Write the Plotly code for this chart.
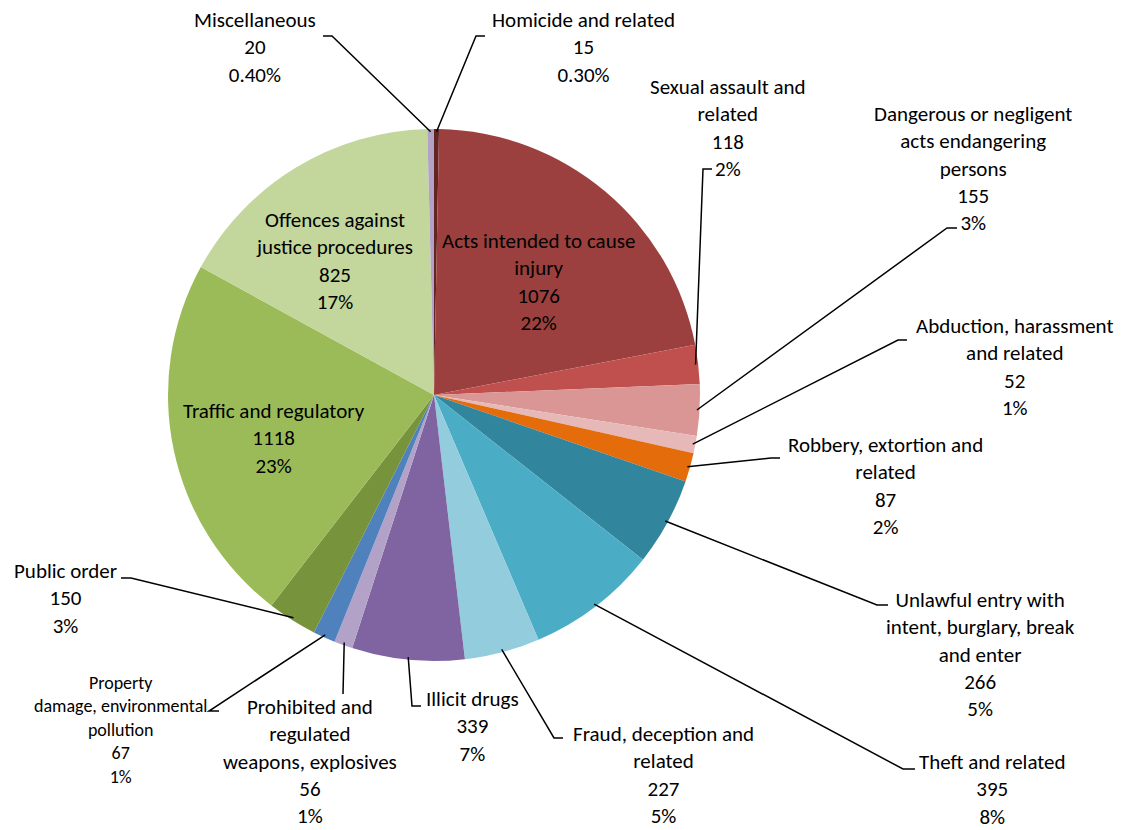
import math
import plotly.graph_objects as go

# slices clockwise from 12 o'clock
names = [
    "Homicide and related",
    "Acts intended to cause<br>injury",
    "Sexual assault and<br>related",
    "Dangerous or negligent<br>acts endangering<br>persons",
    "Abduction, harassment<br>and related",
    "Robbery, extortion and<br>related",
    "Unlawful entry with<br>intent, burglary, break<br>and enter",
    "Theft and related",
    "Fraud, deception and<br>related",
    "Illicit drugs",
    "Prohibited and<br>regulated<br>weapons, explosives",
    "Property<br>damage, environmental<br>pollution",
    "Public order",
    "Traffic and regulatory",
    "Offences against<br>justice procedures",
    "Miscellaneous",
]
values = [15, 1076, 118, 155, 52, 87, 266, 395, 227, 339, 56, 67, 150, 1118, 825, 20]
colors = [
    "#632523", "#9B403E", "#C0504D", "#D99694", "#E6B9B8", "#E46C0A",
    "#31859C", "#4BACC6", "#93CDDD", "#8064A2", "#B3A2C7", "#4F81BD",
    "#77933C", "#9BBB59", "#C3D69B", "#B3A2C7",
]

# page body has an 8px margin, so the figure is drawn 8px in from the corner
OFF = 8
W, H = 1134 - OFF, 830 - OFF
CX, CY, R = 434, 395, 266
FONT = "Carlito, Lato, sans-serif"

# label placement (screen pixels): text centre x, centre y, font size, leader elbow points
# None for the labels that sit inside their slice
label_pos = [
    (583, 47, 21, [(485, 36), (476, 36)]),
    (538, 282, 21, None),
    (728, 128, 21, [(712, 169), (703, 169)]),
    (973, 168, 21, [(957, 228), (947, 228)]),
    (1015, 367, 21, [(907, 340), (898, 340)]),
    (885, 486, 21, [(780, 458), (771, 458)]),
    (980, 654, 21, [(888, 605), (877, 605)]),
    (993, 789, 21, [(915, 769), (903, 769)]),
    (663, 775, 21, [(563, 738), (554, 738)]),
    (472, 726, 21, [(421, 706), (412, 706)]),
    (310, 761, 21, [(343, 694)]),
    (120, 730, 18, [(219, 711), (209, 711)]),
    (65, 598, 21, [(121, 578), (131, 578)]),
    (274, 438, 21, None),
    (334, 261, 21, None),
    (255, 47, 21, [(323, 36), (332, 36)]),
]


def px(x, y):
    return (x - OFF) / W, 1 - (y - OFF) / H


total = sum(values)
x0, y1 = px(CX - R, CY - R)
x1, y0 = px(CX + R, CY + R)
fig = go.Figure(go.Pie(
    values=values,
    labels=[n.replace("<br>", " ") for n in names],
    marker=dict(colors=colors, line=dict(width=0)),
    sort=False,
    direction="clockwise",
    textinfo="none",
    hoverinfo="label+value+percent",
    domain=dict(x=[x0, x1], y=[y0, y1]),
    showlegend=False,
))

cum = 0
for name, v, (lx, ly, fs, elbow) in zip(names, values, label_pos):
    mid = (cum + v / 2) / total * 2 * math.pi
    cum += v
    share = v / total * 100
    pct = f"{share:.2f}%" if share < 1 else f"{round(share)}%"
    x, y = px(lx, ly)
    fig.add_annotation(
        x=x, y=y, xref="paper", yref="paper", showarrow=False,
        text=f"{name}<br>{v}<br>{pct}", align="center",
        xanchor="center", yanchor="middle",
        font=dict(family=FONT, size=fs, color="#000000"),
    )
    if elbow:
        ax = CX + R * 0.99 * math.sin(mid)
        ay = CY - R * 0.99 * math.cos(mid)
        pts = list(elbow) + [(ax, ay)]
        path = "M " + " L ".join(f"{px(a, b)[0]:.5f},{px(a, b)[1]:.5f}" for a, b in pts)
        fig.add_shape(type="path", path=path, xref="paper", yref="paper",
                      line=dict(color="#000000", width=1.5))

fig.update_layout(
    width=W, height=H,
    margin=dict(l=0, r=0, t=0, b=0),
    paper_bgcolor="white",
    plot_bgcolor="white",
)

fig.write_html("out.html")
